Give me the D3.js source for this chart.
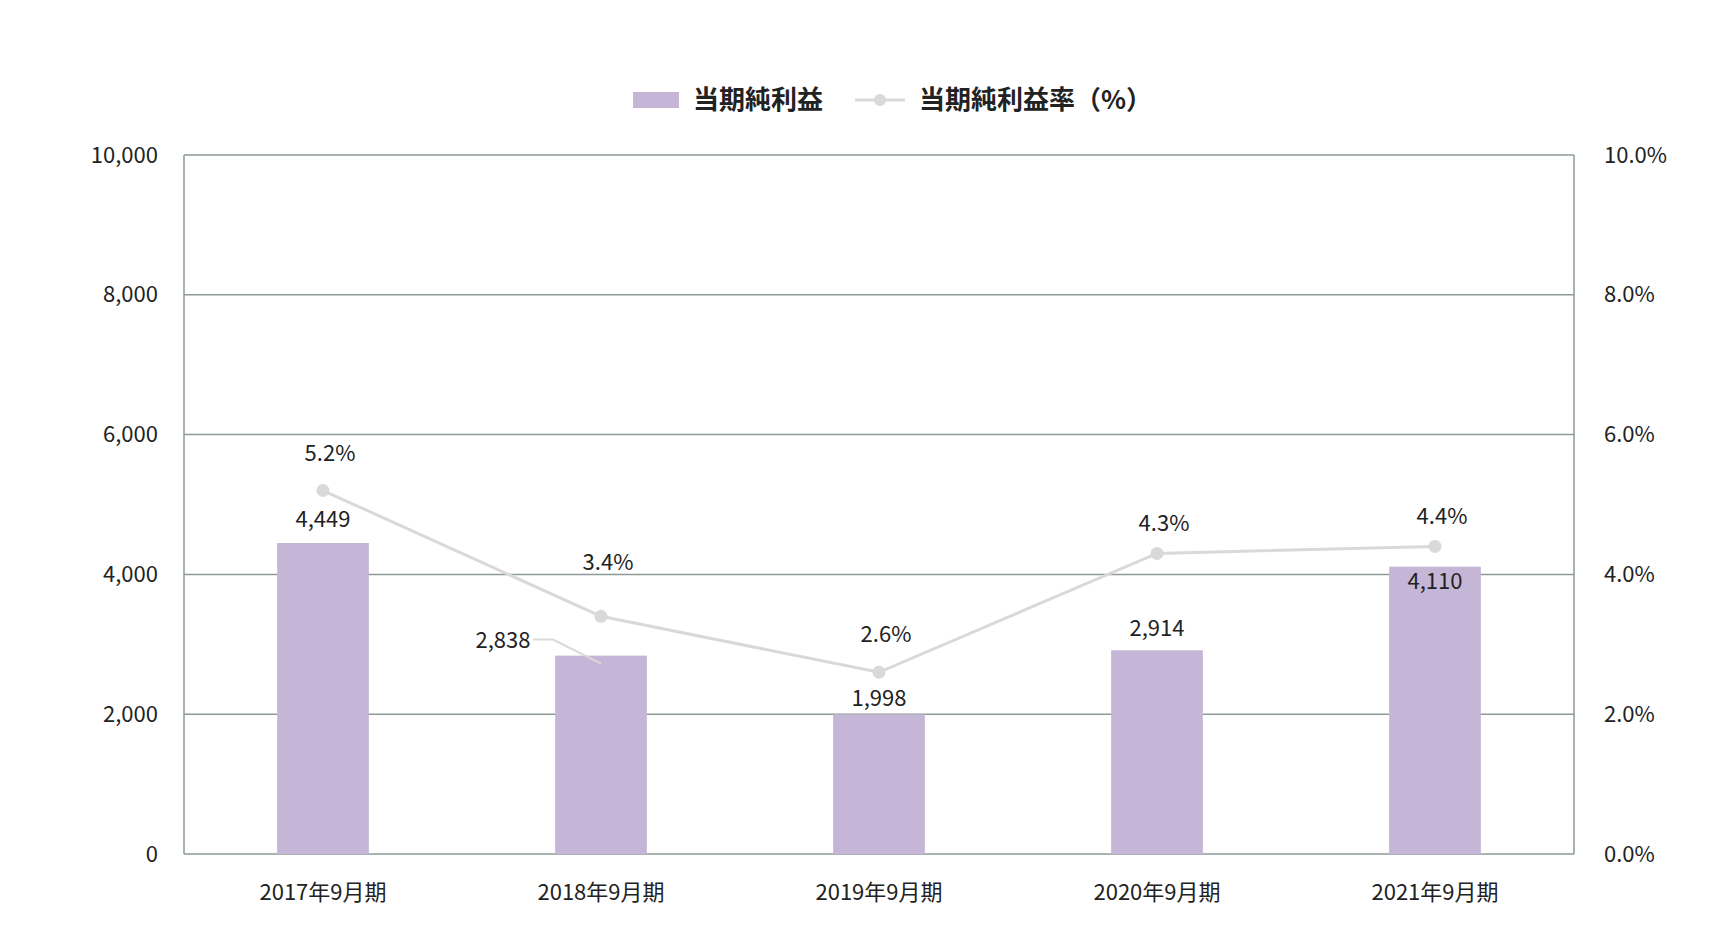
<!DOCTYPE html>
<html><head><meta charset="utf-8">
<script src="https://cdn.jsdelivr.net/npm/d3@7"></script>
<style>body{margin:0;background:#fff}svg{overflow:visible}text{font-family:"Noto Sans CJK JP",sans-serif;fill:#222}</style>
</head><body><div id="chart"></div>
<script>
// data
const periods = ['2017年9月期', '2018年9月期', '2019年9月期', '2020年9月期', '2021年9月期'];
const netIncome = [4449, 2838, 1998, 2914, 4110];
const netRate = [5.2, 3.4, 2.6, 4.3, 4.4];
const leftTicks = [0, 2000, 4000, 6000, 8000, 10000];
const rightTicks = [0, 2, 4, 6, 8, 10];

const width = 1732, height = 946;
const margin = {top: 155, right: 158, bottom: 92, left: 184};
const innerWidth = width - margin.left - margin.right;
const innerHeight = height - margin.top - margin.bottom;

const svg = d3.select('#chart').append('svg').attr('width', width).attr('height', height);
const g = svg.append('g').attr('transform', `translate(${margin.left},${margin.top})`);

const x = d3.scaleBand().domain(periods).range([0, innerWidth]).paddingInner(0.67).paddingOuter(0.335);
const y = d3.scaleLinear().domain([0, 10000]).range([innerHeight, 0]);
const y2 = d3.scaleLinear().domain([0, 10]).range([innerHeight, 0]);
const cx = d => x(d) + x.bandwidth() / 2;

// grid
g.selectAll('.grid').data(leftTicks).join('line')
    .attr('x1', 0).attr('x2', innerWidth)
    .attr('y1', d => y(d)).attr('y2', d => y(d))
    .attr('stroke', '#8d9a98').attr('stroke-width', 1.5);
g.append('line').attr('x1', 0).attr('x2', 0).attr('y1', 0).attr('y2', innerHeight).attr('stroke', '#8d9a98').attr('stroke-width', 1.5);
g.append('line').attr('x1', innerWidth).attr('x2', innerWidth).attr('y1', 0).attr('y2', innerHeight).attr('stroke', '#8d9a98').attr('stroke-width', 1.5);

// axes (labels only)
const fmt = d3.format(',');
g.append('g').call(d3.axisLeft(y).tickValues(leftTicks).tickFormat(fmt).tickSize(0).tickPadding(26))
    .call(a => a.select('.domain').remove())
    .selectAll('text').style('font-size', '22px').attr('fill', '#222');
g.append('g').attr('transform', `translate(${innerWidth},0)`)
    .call(d3.axisRight(y2).tickValues(rightTicks).tickFormat(d => d.toFixed(1) + '%').tickSize(0).tickPadding(30))
    .call(a => a.select('.domain').remove())
    .selectAll('text').style('font-size', '22px').attr('fill', '#222');
g.append('g').attr('transform', `translate(0,${innerHeight})`)
    .call(d3.axisBottom(x).tickSize(0).tickPadding(30))
    .call(a => a.select('.domain').remove())
    .selectAll('text').style('font-size', '22px').attr('fill', '#222');

// bars
g.selectAll('.bar').data(netIncome).join('rect')
    .attr('x', (d, i) => x(periods[i])).attr('width', x.bandwidth())
    .attr('y', d => y(d)).attr('height', d => innerHeight - y(d))
    .attr('fill', '#c5b6d7');

// line
const line = d3.line().x((d, i) => cx(periods[i])).y(d => y2(d));
g.append('path').datum(netRate).attr('d', line).attr('fill', 'none').attr('stroke', '#d9d9d9').attr('stroke-width', 3);
g.selectAll('.pt').data(netRate).join('circle')
    .attr('cx', (d, i) => cx(periods[i])).attr('cy', d => y2(d)).attr('r', 6.5).attr('fill', '#d9d9d9');

// bar labels
const barLabelDx = [0, -98, 0, 0, 0];
const barLabelDy = [-16, -8, -8, -14, 22];
g.selectAll('.bl').data(netIncome).join('text')
    .attr('x', (d, i) => cx(periods[i]) + barLabelDx[i]).attr('y', (d, i) => y(d) + barLabelDy[i])
    .attr('text-anchor', 'middle').style('font-size', '22px').text(d => fmt(d));
// leader line for 2018
const lx = cx(periods[1]);
g.append('polyline')
    .attr('points', `${lx - 68},${y(2838) - 16} ${lx - 48},${y(2838) - 16} ${lx},${y(2838) + 8}`)
    .attr('fill', 'none').attr('stroke', '#d9d9d9').attr('stroke-width', 2);

// rate labels
const rateDx = [7, 7, 7, 7, 7];
const rateDy = [-30, -46, -30, -22, -22];
g.selectAll('.rl').data(netRate).join('text')
    .attr('x', (d, i) => cx(periods[i]) + rateDx[i]).attr('y', (d, i) => y2(d) + rateDy[i])
    .attr('text-anchor', 'middle').style('font-size', '22px').text(d => d.toFixed(1) + '%');

// legend
const lg = svg.append('g').attr('transform', 'translate(633,100)');
lg.append('rect').attr('x', 0).attr('y', -8).attr('width', 46).attr('height', 16).attr('fill', '#c5b6d7');
lg.append('text').attr('x', 60).attr('y', 9).style('font-size', '26px').style('font-weight', 'bold').text('当期純利益');
lg.append('line').attr('x1', 222).attr('x2', 272).attr('y1', 0).attr('y2', 0).attr('stroke', '#d9d9d9').attr('stroke-width', 3);
lg.append('circle').attr('cx', 247).attr('cy', 0).attr('r', 6).attr('fill', '#d9d9d9');
lg.append('text').attr('x', 286).attr('y', 9).style('font-size', '26px').style('font-weight', 'bold').text('当期純利益率（%）');
</script></body></html>
